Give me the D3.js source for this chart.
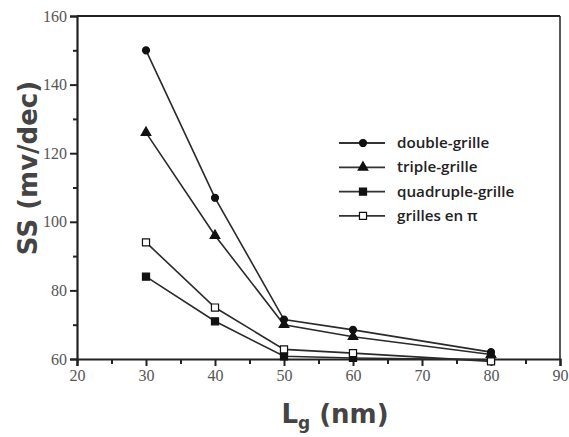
<!DOCTYPE html>
<html><head><meta charset="utf-8">
<script src="https://cdn.jsdelivr.net/npm/d3@7/dist/d3.min.js"></script>
<style>body{margin:0;background:#fff}</style>
</head><body>
<svg id="c" width="569" height="437"></svg>
<script>
const lengths = [30, 40, 50, 60, 80];
const doubleGrille = [150, 107, 71.5, 68.5, 62];
const tripleGrille = [126, 96, 70, 66.5, 61.3];
const quadrupleGrille = [84, 71, 60.8, 60.3, 59.8];
const grillesPi = [94, 75, 62.8, 61.7, 59.3];
const seriesNames = ["double-grille", "triple-grille", "quadruple-grille", "grilles en \u03c0"];
const xTicks = [20, 30, 40, 50, 60, 70, 80, 90];
const yTicks = [60, 80, 100, 120, 140, 160];

const series = [
  {name: seriesNames[0], values: doubleGrille, marker: "circle", fill: "#111"},
  {name: seriesNames[1], values: tripleGrille, marker: "triangle", fill: "#111"},
  {name: seriesNames[2], values: quadrupleGrille, marker: "square", fill: "#111"},
  {name: seriesNames[3], values: grillesPi, marker: "square", fill: "#fff"}
];

const svg = d3.select("#c");
const m = {l: 77, r: 9, t: 16, b: 78};
const W = 569, H = 437;
const x = d3.scaleLinear().domain([20, 90]).range([m.l, W - m.r]);
const y = d3.scaleLinear().domain([60, 160]).range([H - m.b, m.t]);
const axisColor = "#222", labelColor = "#555";

// frame top & right
svg.append("line").attr("x1", x(20)).attr("x2", x(90)).attr("y1", y(160)).attr("y2", y(160))
  .attr("stroke", axisColor).attr("stroke-width", 1.8);
svg.append("line").attr("x1", x(90)).attr("x2", x(90)).attr("y1", y(160)).attr("y2", y(60))
  .attr("stroke", axisColor).attr("stroke-width", 1.5);

// x axis
svg.append("g").attr("transform", `translate(0,${y(60)})`)
  .call(d3.axisBottom(x).tickValues(xTicks).tickSize(7).tickPadding(4).tickFormat(d3.format("d")));
svg.append("g").attr("transform", `translate(0,${y(60)})`)
  .call(d3.axisBottom(x).tickValues(d3.range(25, 90, 10)).tickSize(5).tickFormat(""))
  .call(g => g.select(".domain").remove());
// y axis
svg.append("g").attr("transform", `translate(${x(20)},0)`)
  .call(d3.axisLeft(y).tickValues(yTicks).tickSize(7).tickPadding(3).tickFormat(d3.format("d")));
svg.append("g").attr("transform", `translate(${x(20)},0)`)
  .call(d3.axisLeft(y).tickValues(d3.range(70, 160, 20)).tickSize(4).tickFormat(""))
  .call(g => g.select(".domain").remove());

svg.selectAll(".domain").attr("stroke", axisColor).attr("stroke-width", 2.2);
svg.selectAll(".tick line").attr("stroke", axisColor).attr("stroke-width", 2);
svg.selectAll(".tick text").attr("fill", labelColor)
  .style("font-family", "'Liberation Serif','Times New Roman',serif").style("font-size", "16px");

// series
const line = d3.line().x((d, i) => x(lengths[i])).y(d => y(d));
const sym = {circle: d3.symbolCircle, triangle: d3.symbolTriangle, square: d3.symbolSquare};
const symSize = {circle: 38, triangle: 40, square: 50};
function drawMarker(g, s, cx, cy) {
  g.append("path").attr("d", d3.symbol().type(sym[s.marker]).size(symSize[s.marker])())
    .attr("transform", `translate(${cx},${cy})`)
    .attr("fill", s.fill).attr("stroke", "#111").attr("stroke-width", 1.2);
}
series.forEach(s => {
  svg.append("path").datum(s.values).attr("d", line)
    .attr("fill", "none").attr("stroke", "#2a2a2a").attr("stroke-width", 1.6);
});
series.forEach(s => {
  const g = svg.append("g");
  s.values.forEach((v, i) => drawMarker(g, s, x(lengths[i]), y(v)));
});

// legend
const lg = svg.append("g");
series.forEach((s, i) => {
  const ly = 143 + i * 24.3;
  lg.append("line").attr("x1", 339).attr("x2", 385).attr("y1", ly).attr("y2", ly)
    .attr("stroke", "#333").attr("stroke-width", 1.8);
  drawMarker(lg, s, 363, ly);
  lg.append("text").attr("x", 397).attr("y", ly + 5).text(s.name)
    .attr("fill", "#222").style("font-family", "'Open Sans',sans-serif")
    .style("font-weight", "600").style("font-size", "15.2px");
});

// axis titles
svg.append("text").attr("transform", `translate(37,168) rotate(-90)`)
  .attr("text-anchor", "middle").attr("fill", "#444")
  .style("font-family", "'DejaVu Sans',Verdana,sans-serif").style("font-weight", "bold").style("font-size", "26px")
  .text("SS (mv/dec)");
const xt = svg.append("text").attr("x", 335).attr("y", 423).attr("text-anchor", "middle").attr("fill", "#444")
  .style("font-family", "'DejaVu Sans',Verdana,sans-serif").style("font-weight", "bold").style("font-size", "26px");
xt.append("tspan").text("L");
xt.append("tspan").attr("dy", 6).style("font-size", "17px").text("g");
xt.append("tspan").attr("dy", -6).text(" (nm)");
</script>
</body></html>
